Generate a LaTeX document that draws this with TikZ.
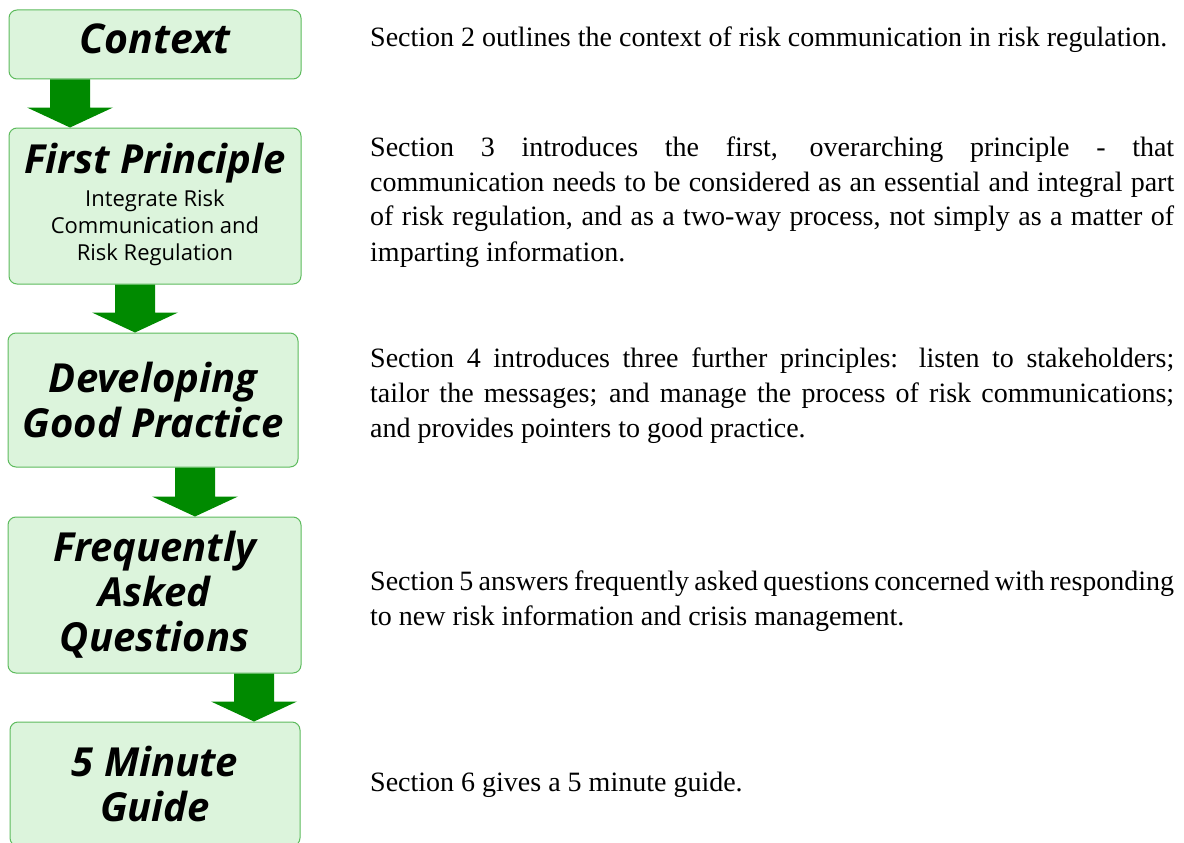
\documentclass[tikz,border=0pt]{standalone}
\usepackage{fontspec}
\setmainfont{Liberation Serif}
\newfontfamily\boxfont{Open Sans}
\usetikzlibrary{calc}

\definecolor{boxfill}{HTML}{DCF4DC}
\definecolor{boxline}{HTML}{5DBB5D}
\definecolor{arrowgreen}{HTML}{008A00}

% block arrow between two stacked boxes, centred at x = #3
\newcommand\flowarrow[3]{%
  \path let \p1=(#1.south), \p2=(#2.north) in
    [fill=arrowgreen]
    (#3pt-20pt,\y1) -- (#3pt+20pt,\y1) -- (#3pt+20pt,\y2+20pt) --
    (#3pt+43pt,\y2+20pt) -- (#3pt,\y2) -- (#3pt-43pt,\y2+20pt) --
    (#3pt-20pt,\y2+20pt) -- cycle;}

\tikzset{
  stagebox/.style={draw=boxline, line width=1pt, fill=boxfill,
    rounded corners=8pt, align=center, inner sep=0pt,
    font=\boxfont\bfseries\itshape\fontsize{40}{45}\selectfont},
  desc/.style={anchor=base west, text width=804pt, inner sep=0pt,
    align=justify, font=\fontsize{28}{35}\selectfont}
}

\begin{document}
\begin{tikzpicture}[x=1pt,y=-1pt]
  \useasboundingbox (0,0) rectangle (1184,843);

  % stages
  \node[stagebox, minimum width=292pt, minimum height=69pt, text depth=12pt,
    font=\boxfont\bfseries\itshape\fontsize{41}{45}\selectfont]
    (ctx) at (155,44.5) {Context};
  \node[stagebox, minimum width=292pt, minimum height=156pt]
    (fp) at (155,206) {First Principle\\[4pt]
      \fontseries{m}\fontshape{n}\fontsize{22}{27}\selectfont
      \begin{tabular}{@{}c@{}}Integrate Risk\\Communication and\\Risk Regulation\end{tabular}};
  \node[stagebox, minimum width=290pt, minimum height=134pt]
    (gp) at (153,400) {Developing\\Good Practice};
  \node[stagebox, minimum width=293pt, minimum height=156pt]
    (faq) at (154.5,595) {Frequently\\Asked\\Questions};
  \node[stagebox, minimum width=290pt, minimum height=124pt]
    (guide) at (155,784) {5 Minute\\Guide};

  % arrows between stages
  \flowarrow{ctx}{fp}{70}
  \flowarrow{fp}{gp}{135}
  \flowarrow{gp}{faq}{195}
  \flowarrow{faq}{guide}{254}

  % section descriptions
  \node[desc] (d2) at (370,47)
    {Section 2 outlines the context of risk communication in risk regulation.};
  \node[desc] (d3) at (370,156)
    {Section 3 introduces the first, overarching principle - that\linebreak
     communication needs to be considered as an essential and integral part\linebreak
     of risk regulation, and as a two-way process, not simply as a matter of\linebreak
     imparting information.};
  \node[desc] (d4) at (370,367)
    {Section 4 introduces three further principles: listen to stakeholders;\linebreak
     tailor the messages; and manage the process of risk communications;\linebreak
     and provides pointers to good practice.};
  \node[desc] (d5) at (370,590)
    {Section 5 answers frequently asked questions concerned with responding\linebreak
     to new risk information and crisis management.};
  \node[desc] (d6) at (370,791)
    {Section 6 gives a 5 minute guide.};
\end{tikzpicture}
\end{document}
